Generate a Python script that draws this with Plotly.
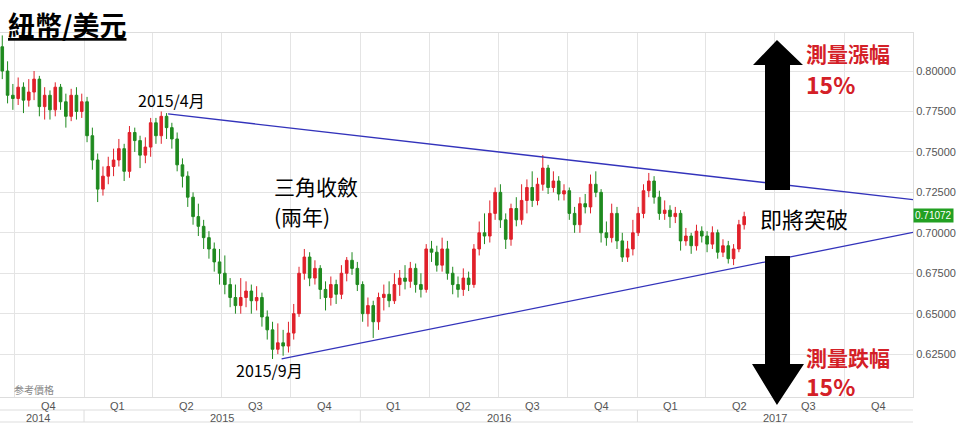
import pandas as pd
import plotly.graph_objects as go

# weekly NZD/USD candles
start = '2014-09-15'
close = [0.800, 0.785, 0.783,
         0.790, 0.782, 0.787, 0.795, 0.778, 0.785, 0.776, 0.790, 0.781, 0.772, 0.785, 0.775, 0.781,
         0.760, 0.745, 0.727, 0.735, 0.741,
         0.745, 0.752, 0.738, 0.762, 0.757, 0.748, 0.753, 0.768,
         0.760, 0.772, 0.765,
         0.758, 0.742, 0.735, 0.722, 0.710, 0.704, 0.697, 0.690, 0.682, 0.675, 0.668, 0.660,
         0.655, 0.660, 0.664, 0.658, 0.660, 0.648,
         0.640, 0.628, 0.632, 0.630,
         0.638, 0.650, 0.675,
         0.685, 0.672, 0.678, 0.665, 0.660, 0.668, 0.662, 0.675, 0.683, 0.678, 0.668,
         0.650, 0.655, 0.645, 0.660, 0.662, 0.658, 0.668, 0.672, 0.670, 0.678, 0.668,
         0.665, 0.690, 0.688, 0.680, 0.690, 0.675, 0.668, 0.665, 0.672, 0.668,
         0.690, 0.700, 0.698, 0.712, 0.725, 0.708, 0.696, 0.715, 0.708, 0.720, 0.728, 0.720, 0.730, 0.740,
         0.728, 0.732, 0.724, 0.726, 0.712, 0.705, 0.718, 0.716, 0.730,
         0.725, 0.700, 0.697, 0.712, 0.695, 0.685,
         0.690, 0.700, 0.712, 0.726, 0.732, 0.722, 0.712,
         0.714, 0.710, 0.712, 0.695, 0.698, 0.692, 0.701, 0.698, 0.693, 0.700, 0.688, 0.692, 0.684, 0.690, 0.705, 0.710]
high = [0.822, 0.806, 0.792, 0.796, 0.793, 0.795, 0.800, 0.797, 0.790, 0.788, 0.793, 0.792, 0.786, 0.789, 0.790, 0.786,
        0.784, 0.765, 0.749, 0.741, 0.747, 0.752, 0.758, 0.755, 0.766, 0.765, 0.760, 0.759, 0.771, 0.771, 0.775, 0.774,
        0.768, 0.762, 0.746, 0.738, 0.725, 0.718, 0.708, 0.701, 0.694, 0.690, 0.686, 0.672, 0.668, 0.672, 0.670, 0.668,
        0.667, 0.663, 0.652, 0.645, 0.644, 0.640, 0.645, 0.656, 0.679, 0.690, 0.688, 0.683, 0.680, 0.670, 0.673, 0.671,
        0.680, 0.685, 0.688, 0.682, 0.670, 0.660, 0.658, 0.663, 0.668, 0.670, 0.675, 0.677, 0.680, 0.682, 0.681, 0.675,
        0.693, 0.695, 0.692, 0.697, 0.695, 0.679, 0.673, 0.678, 0.676, 0.693, 0.707, 0.712, 0.720, 0.728, 0.730, 0.712,
        0.718, 0.722, 0.730, 0.733, 0.738, 0.734, 0.748, 0.742, 0.738, 0.735, 0.730, 0.728, 0.716, 0.722, 0.724, 0.736,
        0.738, 0.727, 0.707, 0.718, 0.716, 0.700, 0.695, 0.708, 0.716, 0.730, 0.737, 0.735, 0.726, 0.720, 0.717, 0.716,
        0.714, 0.703, 0.700, 0.705, 0.704, 0.701, 0.704, 0.702, 0.696, 0.695, 0.693, 0.708, 0.713]
low = [0.795, 0.780, 0.776, 0.779, 0.774, 0.778, 0.782, 0.772, 0.770, 0.770, 0.772, 0.776, 0.765, 0.769, 0.770, 0.771,
       0.756, 0.739, 0.719, 0.723, 0.730, 0.735, 0.741, 0.732, 0.734, 0.750, 0.740, 0.743, 0.747, 0.755, 0.755, 0.758,
       0.752, 0.738, 0.728, 0.716, 0.705, 0.698, 0.690, 0.684, 0.676, 0.668, 0.662, 0.654, 0.650, 0.650, 0.654, 0.650,
       0.652, 0.642, 0.634, 0.622, 0.625, 0.624, 0.626, 0.634, 0.648, 0.671, 0.667, 0.668, 0.659, 0.652, 0.655, 0.656,
       0.659, 0.670, 0.674, 0.664, 0.645, 0.642, 0.635, 0.640, 0.652, 0.654, 0.656, 0.661, 0.665, 0.666, 0.663, 0.660,
       0.663, 0.682, 0.676, 0.676, 0.671, 0.662, 0.660, 0.661, 0.664, 0.666, 0.686, 0.693, 0.694, 0.708, 0.703, 0.690,
       0.692, 0.704, 0.705, 0.712, 0.716, 0.717, 0.726, 0.724, 0.725, 0.720, 0.720, 0.708, 0.700, 0.700, 0.712, 0.712,
       0.722, 0.694, 0.692, 0.694, 0.690, 0.682, 0.682, 0.686, 0.698, 0.709, 0.722, 0.718, 0.708, 0.708, 0.703, 0.706,
       0.689, 0.692, 0.687, 0.689, 0.694, 0.688, 0.690, 0.684, 0.685, 0.681, 0.680, 0.688, 0.702]
dates = pd.date_range(start, periods=len(close), freq='7D')
opens = [0.815] + close[:-1]

last_price = '0.71072'
# trend lines (date, price)
upper_line = [('2015-04-22', 0.7735), ('2017-12-31', 0.7205)]
lower_line = [('2015-09-19', 0.6220), ('2017-12-31', 0.7003)]

quarter_labels = ['Q4', 'Q1', 'Q2', 'Q3', 'Q4', 'Q1', 'Q2', 'Q3', 'Q4', 'Q1', 'Q2', 'Q3', 'Q4']
quarter_mid = ['2014-11-15', '2015-02-14', '2015-05-16', '2015-08-15', '2015-11-15', '2016-02-14', '2016-05-16',
               '2016-08-15', '2016-11-15', '2017-02-14', '2017-05-16', '2017-08-15', '2017-11-15']
year_labels = ['2014', '2015', '2016', '2017']
year_mid = ['2014-11-01', '2015-07-02', '2016-07-02', '2017-07-02']
quarter_starts = pd.date_range('2014-10-01', '2017-12-31', freq='QS')

fig = go.Figure(go.Candlestick(
    x=dates, open=opens, high=high, low=low, close=close,
    increasing=dict(line=dict(color='#e0202a', width=1), fillcolor='#e0202a'),
    decreasing=dict(line=dict(color='#1f8a1f', width=1), fillcolor='#1f8a1f'),
    whiskerwidth=0, showlegend=False, hoverinfo='skip'))

for (x0, y0), (x1, y1) in [upper_line, lower_line]:
    fig.add_shape(type='line', x0=x0, y0=y0, x1=x1, y1=y1, line=dict(color='#3333bb', width=1.3))

W, T, B = 913, 33, 397
def px(x, y):
    return f'{x / W:.4f},{(B - y) / (B - T):.4f}'

up_arrow = [(765, 190), (765, 65), (753, 65), (777, 40), (803, 65), (790, 65), (790, 190)]
down_arrow = [(765, 256), (765, 364), (752, 364), (777, 405), (804, 364), (790, 364), (790, 256)]
for poly in [up_arrow, down_arrow]:
    path = 'M' + ' L'.join(px(x, y) for x, y in poly) + ' Z'
    fig.add_shape(type='path', path=path, xref='paper', yref='paper', fillcolor='black', line=dict(width=0))

cjk = 'Noto Sans CJK TC'
def note(x, y, text, size, color='black', bold=True, **kw):
    fig.add_annotation(x=x / W, y=(B - y) / (B - T), xref='paper', yref='paper', text=f'<b>{text}</b>' if bold else text,
                       showarrow=False, xanchor='left', yanchor='middle',
                       font=dict(family=cjk, size=size, color=color), **kw)

note(6, 24, '<u>紐幣/美元</u>', 27)
note(136, 100, '2015/4月', 16, bold=False)
note(234, 370, '2015/9月', 16, bold=False)
note(272, 186, '三角收斂', 21, bold=False)
note(272, 216, '(兩年)', 21, bold=False)
note(758, 218, '即將突破', 22, bold=False)
note(804, 53, '測量漲幅', 21, color='#d42027')
note(804, 84, '15%', 23, color='#d42027')
note(804, 357, '測量跌幅', 21, color='#d42027')
note(804, 386, '15%', 23, color='#d42027')
note(12, 389, '参考價格', 10, color='#888888', bold=False)

fig.add_annotation(x=1, y=0.7107, xref='paper', yref='y', text=last_price, showarrow=False, xanchor='left',
                   bgcolor='#22a022', font=dict(family='Liberation Sans', size=10, color='white'), borderpad=1)

H = B - T
axis_font = dict(family='Liberation Sans Narrow, Liberation Sans', size=11, color='#555555')
for lab, xm in zip(quarter_labels, quarter_mid):
    fig.add_annotation(x=xm, y=-1 / H, xref='x', yref='paper', yanchor='top', text=lab, showarrow=False, font=axis_font)
for lab, xm in zip(year_labels, year_mid):
    fig.add_annotation(x=xm, y=-13 / H, xref='x', yref='paper', yanchor='top', text=lab, showarrow=False, font=axis_font)
for yp in [-13 / H, -25 / H]:
    fig.add_shape(type='line', xref='paper', yref='paper', x0=0, x1=1, y0=yp, y1=yp, line=dict(color='#dddddd', width=1))
for yb in ['2015-01-01', '2016-01-01', '2017-01-01']:
    fig.add_shape(type='line', xref='x', yref='paper', x0=yb, x1=yb, y0=-13 / H, y1=-25 / H,
                  line=dict(color='#dddddd', width=1))

fig.update_layout(
    width=960, height=432, margin=dict(l=0, r=47, t=T, b=432 - B),
    paper_bgcolor='white', plot_bgcolor='white',
    xaxis=dict(range=['2014-09-12', '2017-12-31'], rangeslider=dict(visible=False), tickvals=quarter_starts,
               showticklabels=False, showgrid=True, gridcolor='#e4e4e4', zeroline=False,
               showline=True, linecolor='#dddddd', mirror=True),
    yaxis=dict(range=[0.5985, 0.8235], side='right', tickvals=[0.625, 0.65, 0.675, 0.7, 0.725, 0.75, 0.775, 0.8],
               tickformat='.5f', tickfont=dict(family='Liberation Sans', size=11, color='#555555'),
               gridcolor='#e4e4e4', zeroline=False, showline=True, linecolor='#dddddd'),
)
fig.write_html('out.html', config={'displayModeBar': False}, post_script="document.body.style.margin='0';")
